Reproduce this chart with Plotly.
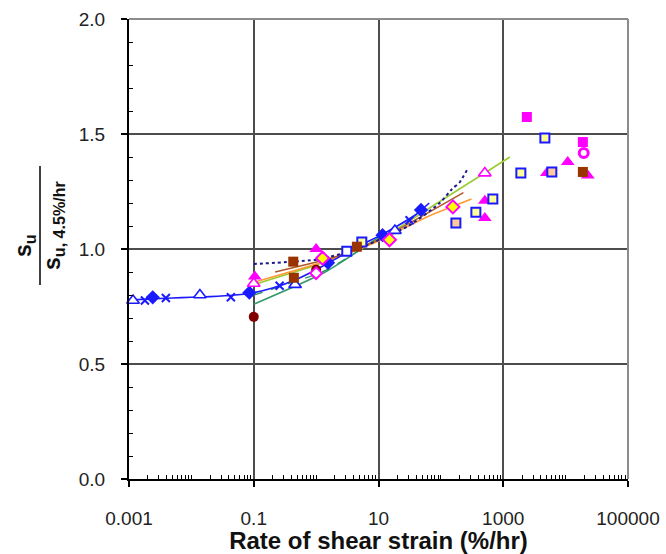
import plotly.graph_objects as go

# ---- fitted trend lines (rate %/hr, normalised strength) ----
blue_fit_x = [0.001, 0.002, 0.005, 0.01, 0.02, 0.05, 0.1, 0.2, 0.5, 1, 2, 5, 10, 20, 40, 65]
blue_fit_y = [0.778, 0.782, 0.787, 0.790, 0.793, 0.800, 0.810, 0.830, 0.870, 0.910, 0.955, 1.015, 1.055, 1.100, 1.150, 1.200]

navy_fit_x = [0.1, 1.1, 4.5, 30, 96, 150, 200, 271]
navy_fit_y = [0.935, 0.955, 1.0, 1.10, 1.20, 1.26, 1.29, 1.35]

brown_fit_x = [0.22, 2.0, 10, 230]
brown_fit_y = [0.90, 0.965, 1.04, 1.245]

orange_fit_x = [0.1, 2.0, 10, 55, 310]
orange_fit_y = [0.855, 0.96, 1.035, 1.135, 1.217]

lime_fit_x = [0.1, 1, 10, 100, 1280]
lime_fit_y = [0.845, 0.93, 1.04, 1.21, 1.40]

teal_fit_x = [0.1, 1.4, 10]
teal_fit_y = [0.76, 0.90, 1.05]

teal_dash_x = [0.1, 1.5, 10]
teal_dash_y = [0.80, 0.91, 1.05]

# ---- measured points ----
blue_tri_x = [0.00116, 0.0137, 0.46, 18.3]
blue_tri_y = [0.776, 0.80, 0.845, 1.08]

blue_cross_x = [0.0018, 0.0039, 0.043, 0.26, 31.5]
blue_cross_y = [0.776, 0.787, 0.79, 0.84, 1.125]

blue_dia_x = [0.0024, 0.085, 1.55, 11.6, 48]
blue_dia_y = [0.79, 0.81, 0.94, 1.06, 1.17]

blue_sq_x = [3.1]
blue_sq_y = [0.99]

blue_sq_yel_x = [5.4, 364, 681, 1915, 4650]
blue_sq_yel_y = [1.03, 1.16, 1.217, 1.33, 1.483]

blue_sq_pch_x = [174, 6010]
blue_sq_pch_y = [1.113, 1.335]

mag_tri_x = [0.104, 1.0, 507, 507, 5000, 10800, 22700]
mag_tri_y = [0.88, 1.0, 1.21, 1.135, 1.33, 1.378, 1.32]

mag_tri_open_x = [0.1, 507]
mag_tri_open_y = [0.85, 1.33]

mag_dia_yel_x = [1.27, 15, 156]
mag_dia_yel_y = [0.96, 1.04, 1.183]

mag_dia_open_x = [1.0]
mag_dia_open_y = [0.895]

mag_sq_x = [2390, 18900]
mag_sq_y = [1.574, 1.465]

mag_circ_open_x = [19500]
mag_circ_open_y = [1.417]

brown_sq_x = [0.43, 0.44, 4.5, 18900]
brown_sq_y = [0.945, 0.875, 1.01, 1.335]

dred_circ_x = [0.1, 1.0]
dred_circ_y = [0.705, 0.91]

# ---- axis ticks ----
x_tickvals = [0.001, 0.1, 10, 1000, 100000]
x_ticktext = ["0.001", "0.1", "10", "1000", "100000"]
y_tickvals = [0.0, 0.5, 1.0, 1.5, 2.0]
y_ticktext = ["0.0", "0.5", "1.0", "1.5", "2.0"]

BLUE = "#1a1aff"
MAG = "#ff00ff"
FONT = "Liberation Sans, Arial, sans-serif"

fig = go.Figure()


def add_line(x, y, color, width=1.6, dash="solid"):
    fig.add_trace(go.Scatter(x=x, y=y, mode="lines", line=dict(color=color, width=width, dash=dash,
                                                                  shape="spline", smoothing=0.6),
                             hoverinfo="skip", cliponaxis=False))


def add_pts(x, y, symbol, size, fill, edge, lw):
    fig.add_trace(go.Scatter(x=x, y=y, mode="markers", cliponaxis=False,
                             marker=dict(symbol=symbol, size=size, color=fill,
                                         line=dict(color=edge, width=lw))))


add_line(teal_fit_x, teal_fit_y, "#339966", 1.5)
add_line(teal_dash_x, teal_dash_y, "#339966", 1.5, "dash")
add_line(lime_fit_x, lime_fit_y, "#99cc33", 1.6)
add_line(orange_fit_x, orange_fit_y, "#ff9933", 1.6)
add_line(brown_fit_x, brown_fit_y, "#b0592a", 1.6)
add_line(navy_fit_x, navy_fit_y, "#1a1a8c", 2.0, "dot")
add_line(blue_fit_x, blue_fit_y, BLUE, 1.6)

add_pts(dred_circ_x, dred_circ_y, "circle", 10, "#800000", "#800000", 0)
add_pts(mag_dia_open_x, mag_dia_open_y, "diamond", 9, "white", MAG, 2)
add_pts(blue_tri_x, blue_tri_y, "triangle-up", 11, "white", BLUE, 1.6)
add_pts(blue_cross_x, blue_cross_y, "x-thin", 8, BLUE, BLUE, 2)
add_pts(blue_dia_x, blue_dia_y, "diamond", 11, BLUE, BLUE, 0)
add_pts(blue_sq_x, blue_sq_y, "square", 9, "white", BLUE, 2)
add_pts(mag_tri_x, mag_tri_y, "triangle-up", 12, MAG, MAG, 0)
add_pts(mag_tri_open_x, mag_tri_open_y, "triangle-up", 11, "white", MAG, 1.6)
add_pts(blue_sq_yel_x, blue_sq_yel_y, "square", 9, "#ffff99", BLUE, 2)
add_pts(blue_sq_pch_x, blue_sq_pch_y, "square", 9, "#ffcc99", BLUE, 2)
add_pts(mag_dia_yel_x, mag_dia_yel_y, "diamond", 10, "#ffff00", MAG, 2)
add_pts(mag_sq_x, mag_sq_y, "square", 10, MAG, MAG, 0)
add_pts(mag_circ_open_x, mag_circ_open_y, "circle", 9, "white", MAG, 3)
add_pts(brown_sq_x, brown_sq_y, "square", 10, "#993300", "#993300", 0)

# minor tick positions on the log axis: 2..9 and the skipped decades
x_minor = []
for e in range(-3, 5):
    for m in range(1, 10):
        v = m * 10 ** e
        if m == 1 and v in x_tickvals:
            continue
        x_minor.append(v)
y_minor = [i / 10 for i in range(0, 21) if i % 5 != 0]

tick_font = dict(family=FONT, size=19, color="#222222")

fig.update_layout(
    width=666, height=554,
    margin=dict(l=129, r=38, t=19, b=75),
    paper_bgcolor="white", plot_bgcolor="white",
    showlegend=False,
    xaxis=dict(
        type="log", range=[-3, 5], automargin=False,
        tickvals=x_tickvals, ticktext=x_ticktext,
        showgrid=True, gridcolor="#4d4d4d", gridwidth=2,
        showline=True, linecolor="black", linewidth=2,
        ticks="outside", ticklen=6, tickwidth=1.5, tickcolor="black",
        tickfont=tick_font, ticklabelstandoff=15,
        minor=dict(tickvals=x_minor, ticks="inside", ticklen=4, tickwidth=1, tickcolor="black", showgrid=False),
        zeroline=False,
        title=dict(text="<b>Rate of shear strain (%/hr)</b>",
                   font=dict(family=FONT, size=24, color="#111111"),
                   standoff=6),
    ),
    yaxis=dict(
        range=[0, 2], automargin=False,
        tickvals=y_tickvals, ticktext=y_ticktext,
        showgrid=True, gridcolor="#4d4d4d", gridwidth=2,
        showline=True, linecolor="black", linewidth=2,
        ticks="outside", ticklen=6, tickwidth=1.5, tickcolor="black",
        tickfont=tick_font, ticklabelstandoff=12,
        minor=dict(tickvals=y_minor, ticks="inside", ticklen=4, tickwidth=1, tickcolor="black", showgrid=False),
        zeroline=False,
    ),
    shapes=[
        dict(type="line", xref="paper", yref="paper", x0=0, x1=1, y0=1, y1=1,
             line=dict(color="#8c8c8c", width=2)),
        dict(type="line", xref="paper", yref="paper", x0=1, x1=1, y0=0, y1=1,
             line=dict(color="#8c8c8c", width=2)),
        # fraction bar of the y-axis label
        dict(type="line", xref="paper", yref="paper", x0=(40 - 129) / 499, x1=(40 - 129) / 499,
             y0=(479 - 285) / 460, y1=(479 - 166) / 460,
             line=dict(color="black", width=1.5)),
    ],
    annotations=[
        dict(text="<b>s<sub>u</sub></b>", xref="paper", yref="paper",
             x=(24 - 129) / 499, y=(479 - 246) / 460, textangle=-90, showarrow=False,
             xanchor="center", yanchor="middle",
             font=dict(family=FONT, size=23, color="#111111")),
        dict(text="<b>s<sub>u, 4.5%/hr</sub></b>", xref="paper", yref="paper",
             x=(54 - 129) / 499, y=(479 - 225) / 460, textangle=-90, showarrow=False,
             xanchor="center", yanchor="middle",
             font=dict(family=FONT, size=23, color="#111111")),
    ],
)

fig.write_html("out.html")
